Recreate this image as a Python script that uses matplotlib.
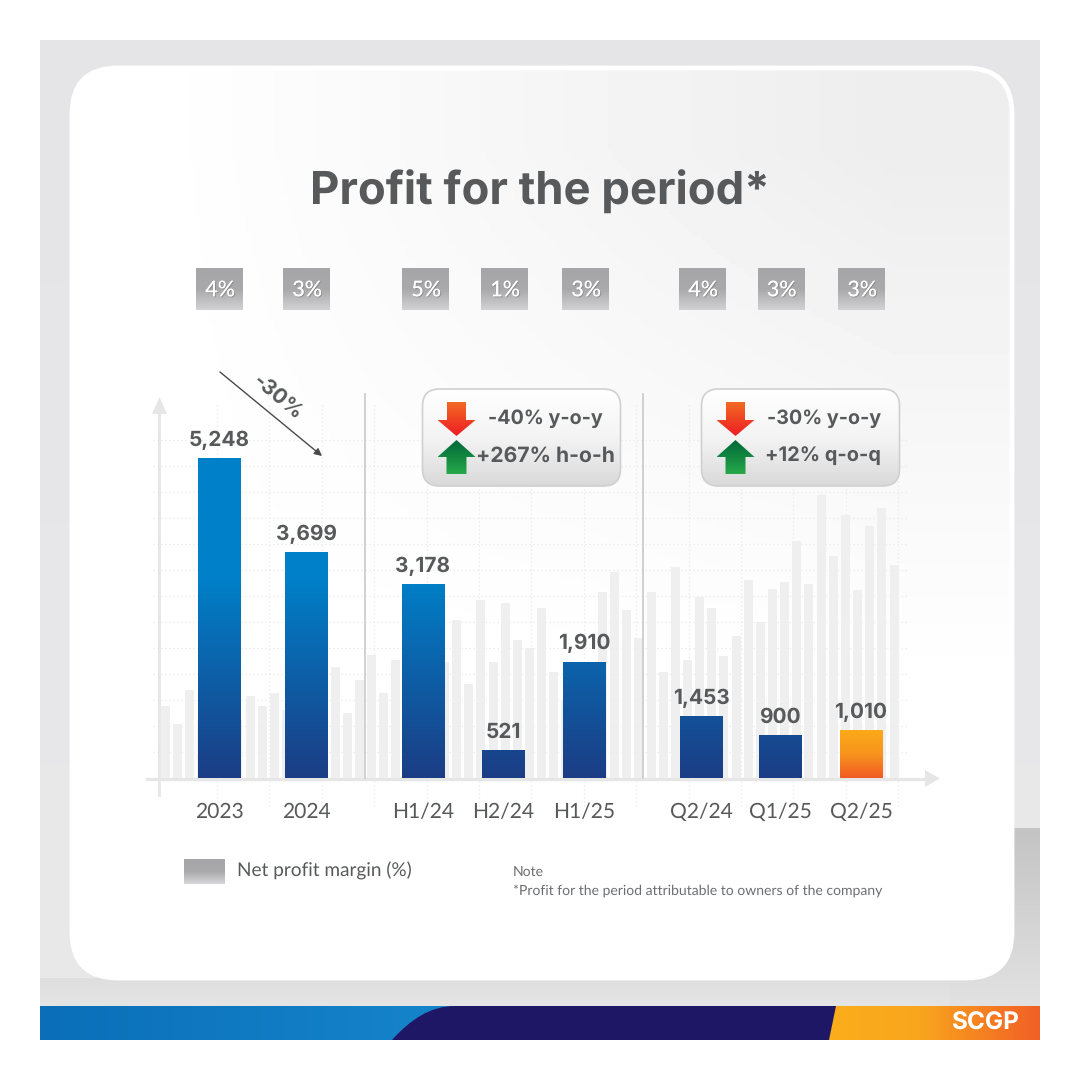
"""Profit for the period - SCGP infographic."""

import numpy as np
import matplotlib
matplotlib.use("Agg")
import matplotlib.pyplot as plt
import matplotlib.patheffects as pe
from matplotlib.colors import LinearSegmentedColormap
from matplotlib.patches import FancyBboxPatch, PathPatch, Polygon, Rectangle
from matplotlib.path import Path

plt.rcParams["text.hinting"] = "no_hinting"
plt.rcParams["text.hinting_factor"] = 1

GREY_TXT = "#58595b"
BOLD_FONT = ["Inter", "Open Sans", "DejaVu Sans"]
LIGHT_FONT = ["Lato", "DejaVu Sans"]

categories = ["2023", "2024", "H1/24", "H2/24", "H1/25", "Q2/24", "Q1/25", "Q2/25"]
value_labels = ["5,248", "3,699", "3,178", "521", "1,910", "1,453", "900", "1,010"]
# bar lengths as drawn in the picture, in the units of the 2023 bar: H2/24 and
# the quarters are not to scale with their printed numbers
bar_heights = [5248, 3699, 3178, 459, 1910, 1017, 705, 787]
margins = ["4%", "3%", "5%", "1%", "3%", "4%", "3%", "3%"]

# pale decorative bars behind the chart, left to right
ghost_heights = [
    1181, 886, 1443, 951, 951, 951, 951, 1345, 1181, 1394, 1115, 1279, 1279, 1279,
    1820, 1066, 1607, 2017, 1394, 1935, 2263, 1935, 1935, 1902, 2591, 1542, 2919,
    1902, 2870, 2263, 2132, 2788, 1738, 1279, 1279, 1279, 3050, 3378, 2755, 2296,
    3050, 1738, 3460, 1935, 2968, 2788, 2001, 2329, 3247, 2558, 3100, 3214, 3887,
    3182, 4641, 3641, 4313, 3083, 4133, 4428, 3493,
]

bar_x = [219, 306, 423, 503, 584, 701, 780, 861]
tag_x = [219.5, 306.5, 425.5, 504.5, 585.5, 702.5, 781, 861.5]
ghost_x = 165 + 12.15 * np.arange(len(ghost_heights))
PX_PER_UNIT = 320 / 5248
BASE_Y = 778


def grad(ax, patch, stops, horizontal=False, extent=None):
    """Fill a patch with a linear gradient by clipping an image to it."""
    cmap = LinearSegmentedColormap.from_list("g", stops)
    arr = np.linspace(0, 1, 256)
    arr = arr[None, :] if horizontal else arr[:, None]
    ax.add_patch(patch)
    patch.set_facecolor("none")
    patch.set_edgecolor("none")
    im = ax.imshow(arr, cmap=cmap, extent=extent, aspect="auto",
                   origin="lower", zorder=patch.get_zorder(), interpolation="bilinear")
    im.set_clip_path(patch)
    return im


fig = plt.figure(figsize=(10.8, 10.8), dpi=100, facecolor="white")

# background layer in pixel coordinates
bg = fig.add_axes([0, 0, 1, 1], zorder=0)
bg.set_xlim(0, 1080)
bg.set_ylim(1080, 0)
bg.set_autoscale_on(False)
bg.axis("off")

grad(bg, Rectangle((40, 40), 1000, 966), ["#e5e5e8", "#e9e9ea"], extent=(40, 1040, 40, 1006))
grad(bg, Rectangle((40, 978), 1000, 28), ["#dedede", "#e5e5e5"], extent=(40, 1040, 978, 1006))
grad(bg, Rectangle((950, 828), 90, 178), ["#c4c4c4", "#e2e2e2"], extent=(950, 1040, 828, 1006))

card = FancyBboxPatch((72, 68), 940, 910, boxstyle="round,pad=0,rounding_size=46")
yy, xx = np.mgrid[0:1:200j, 0:1:200j]
shade = 1 - 0.07 * np.clip(xx * 1.25 - 0.1, 0, 1) * np.clip(1.15 - yy * 1.7, 0, 1)
card_im = bg.imshow(shade, cmap="gray", vmin=0, vmax=1, extent=(72, 1012, 978, 68),
                    aspect="auto", origin="upper", zorder=2)
card.set(facecolor="none", edgecolor="white", linewidth=3.5, zorder=3)
bg.add_patch(card)
card_im.set_clip_path(card)

# bottom ribbon
grad(bg, Rectangle((40, 1006), 420, 34), ["#0a6fb8", "#1685cb"], horizontal=True,
     extent=(40, 460, 1006, 1040))
grad(bg, Rectangle((800, 1006), 240, 34), ["#fbb01b", "#f9a61d", "#f15f26"], horizontal=True,
     extent=(800, 1040, 1006, 1040))
navy = Path([(392, 1040), (410, 1020), (430, 1006), (455, 1006), (836, 1006), (829, 1040), (392, 1040)],
            [Path.MOVETO, Path.CURVE4, Path.CURVE4, Path.CURVE4, Path.LINETO, Path.LINETO, Path.CLOSEPOLY])
bg.add_patch(PathPatch(navy, facecolor="#1e1766", edgecolor="none", zorder=3))
bg.text(986, 1023, "SCGP", color="white", fontsize=17.5, fontweight="bold", family=BOLD_FONT,
        ha="center", va="center", zorder=4)

# dotted backdrop grid
for gy in np.arange(440, 760, 26):
    bg.plot([153, 908], [gy, gy], color="#e9e9e9", lw=0.9, ls=(0, (1, 2.2)), zorder=4)
for gx in np.arange(217, 905, 52.4):
    bg.plot([gx, gx], [405, 808], color="#e9e9e9", lw=0.9, ls=(0, (1, 2.2)), zorder=4)

# axis arrows sit underneath the bars
bg.plot([147, 928], [BASE_Y + 0.5, BASE_Y + 0.5], color="#e6e6e6", lw=2.4, zorder=5)
bg.plot([159, 159], [414, 795], color="#e6e6e6", lw=2.0, zorder=5)
bg.add_patch(Polygon([(925, 770), (925, 787), (940, 778.5)], color="#e6e6e6", lw=0, zorder=5))
bg.add_patch(Polygon([(152, 414), (167, 414), (159.5, 397)], color="#e6e6e6", lw=0, zorder=5))

# the chart itself
ax = fig.add_axes([140 / 1080, (1080 - BASE_Y) / 1080, 800 / 1080, 378 / 1080], zorder=1)
ax.patch.set_alpha(0)
ax.set_xlim(140, 940)
ax.set_ylim(0, 378 / PX_PER_UNIT)
ax.set_autoscale_on(False)
ax.axis("off")

ax.bar(ghost_x, ghost_heights, width=9, color="#efefef", zorder=1)

ymax = ax.get_ylim()[1]
blue = [(0, "#1b3d85"), (200 / PX_PER_UNIT / ymax, "#0080c8"), (1, "#0080c8")]
bars = ax.bar(bar_x, bar_heights, width=42.5, color="none", zorder=3)
for i, (r, lab) in enumerate(zip(bars, value_labels)):
    if i == len(bars) - 1:
        cm = LinearSegmentedColormap.from_list("o", ["#f15a24", "#f7941d", "#fbaa19"])
        top = r.get_height()
    else:
        cm = LinearSegmentedColormap.from_list("b", blue)
        top = ymax
    im = ax.imshow(np.linspace(0, 1, 256)[:, None], cmap=cm, origin="lower", aspect="auto",
                   extent=(r.get_x(), r.get_x() + r.get_width(), 0, top), zorder=3)
    im.set_clip_path(r)
    ax.annotate(lab, (bar_x[i], r.get_height()), xytext=(0, 12.8), textcoords="offset points",
                ha="center", va="center", fontsize=15, fontweight="bold", color=GREY_TXT,
                family=BOLD_FONT, annotation_clip=False, zorder=5)

# overlay layer, pixel coordinates again
ov = fig.add_axes([0, 0, 1, 1], zorder=2)
ov.patch.set_alpha(0)
ov.set_xlim(0, 1080)
ov.set_ylim(1080, 0)
ov.set_autoscale_on(False)
ov.axis("off")

ov.text(539.5, 192, "Profit for the period*", ha="center", va="center", fontsize=32.7,
        fontweight="bold", color=GREY_TXT, family=BOLD_FONT)

# margin tags
for tx, m in zip(tag_x, margins):
    grad(ov, Rectangle((tx - 23.5, 268), 47, 42), ["#a6a6a8", "#a9a9ab", "#d2d2d4"],
         extent=(tx - 23.5, tx + 23.5, 268, 310))
    ov.text(tx + 1, 290, m, ha="center", va="center", fontsize=15.5, color="white", family=LIGHT_FONT,
            zorder=6,
            path_effects=[pe.withSimplePatchShadow(offset=(0.8, -0.8), shadow_rgbFace="#777777", alpha=0.5),
                          pe.Normal()])

# section separators
for sx in [365, 643]:
    ov.plot([sx, sx], [394, BASE_Y], color="#c9c9c9", lw=1.2, zorder=1)

# -30% trend arrow
ov.annotate("", xy=(322, 456), xytext=(220, 372),
            arrowprops=dict(arrowstyle="-|>", color="#4a4a4c", lw=1.0, mutation_scale=11, shrinkA=0, shrinkB=0))
ov.text(278, 397, "-30%", rotation=-40, rotation_mode="anchor", ha="center", va="center",
        fontsize=15, fontweight="bold", color=GREY_TXT, family=BOLD_FONT)


def delta_box(x0, text1, text2, right2=179, size2=14.4):
    box = FancyBboxPatch((x0, 389), 198, 97, boxstyle="round,pad=0,rounding_size=17")
    grad(ov, box, ["#ffffff", "#f4f4f4", "#d9d9da"], extent=(x0, x0 + 198, 389, 486))
    ov.add_patch(FancyBboxPatch((x0, 389), 198, 97, boxstyle="round,pad=0,rounding_size=17",
                                facecolor="none", edgecolor="#d0d0d0", lw=1.2, zorder=3))
    c = x0 + 34
    down = Polygon([(c - 9.5, 402), (c + 9.5, 402), (c + 9.5, 420), (c + 19, 420), (c, 436),
                    (c - 19, 420), (c - 9.5, 420)], closed=True, zorder=4)
    grad(ov, down, ["#f26a22", "#ed1c24"], extent=(c - 19, c + 19, 402, 436))
    up = Polygon([(c, 440), (c + 19, 457), (c + 10, 457), (c + 10, 474), (c - 10, 474),
                  (c - 10, 457), (c - 19, 457)], closed=True, zorder=4)
    grad(ov, up, ["#006838", "#27a84a"], extent=(c - 19, c + 19, 440, 474))
    ov.text(x0 + 180, 419, text1, ha="right", va="center", fontsize=14.2, fontweight="bold",
            color=GREY_TXT, family=BOLD_FONT, zorder=5)
    ov.text(x0 + right2, 456, text2, ha="right", va="center", fontsize=size2, fontweight="bold",
            color=GREY_TXT, family=BOLD_FONT, zorder=5)


delta_box(422.5, "-40% y-o-y", "+267% h-o-h", right2=192, size2=15.2)
delta_box(701.5, "-30% y-o-y", "+12% q-o-q")

# category labels
for bx, cat in zip(bar_x, categories):
    ov.text(bx, 812, cat, ha="center", va="center", fontsize=15, color=GREY_TXT, family=LIGHT_FONT)

# legend and note
grad(ov, Rectangle((184, 859), 41, 25), ["#a6a6a8", "#a9a9ab", "#d8d8da"], extent=(184, 225, 859, 884))
ov.text(237, 871, "Net profit margin (%)", ha="left", va="center", fontsize=13.5,
        color=GREY_TXT, family=LIGHT_FONT)
ov.text(513, 872, "Note", ha="left", va="center", fontsize=10.3, color="#6d6e71", family=LIGHT_FONT)
ov.text(513, 891, "*Profit for the period attributable to owners of the company", ha="left",
        va="center", fontsize=10.3, color="#6d6e71", family=LIGHT_FONT)

fig.savefig("out.png", dpi=100)
